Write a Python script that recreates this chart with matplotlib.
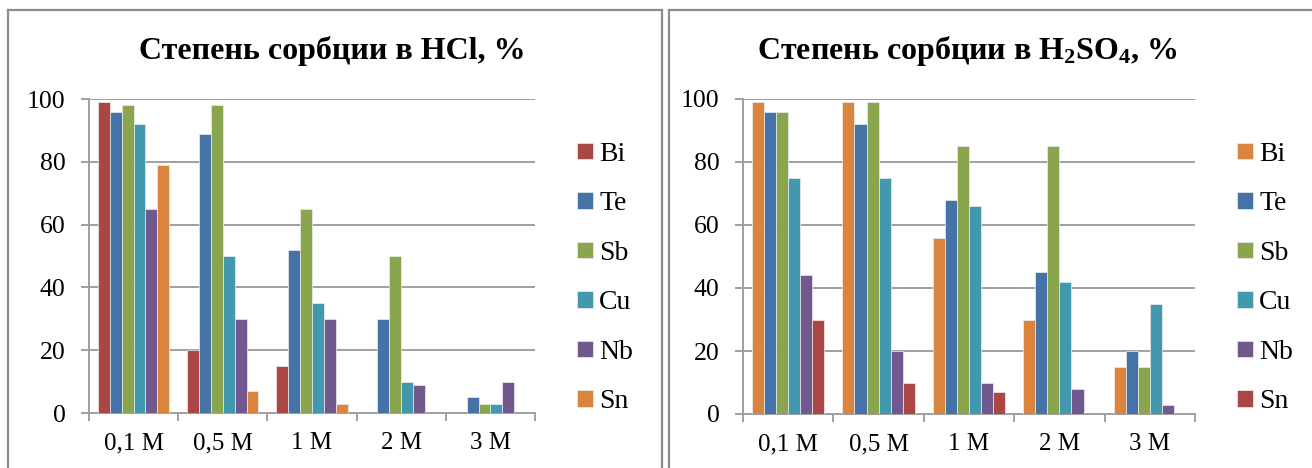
import matplotlib
matplotlib.use("Agg")
import matplotlib.pyplot as plt
from matplotlib.lines import Line2D
import numpy as np

plt.rcParams['font.family'] = ['Liberation Serif', 'DejaVu Serif']
plt.rcParams['mathtext.fontset'] = 'custom'
plt.rcParams['mathtext.rm'] = 'Liberation Serif:bold'
plt.rcParams['mathtext.bf'] = 'Liberation Serif:bold'
plt.rcParams['mathtext.it'] = 'Liberation Serif:bold'

# Concentrations of the acid
categories = ["0,1 M", "0,5 M", "1 M", "2 M", "3 M"]
elements = ["Bi", "Te", "Sb", "Cu", "Nb", "Sn"]

# Sorption degree in HCl, %
hcl_bi = [99, 20, 15, 0, 0]
hcl_te = [96, 89, 52, 30, 5]
hcl_sb = [98, 98, 65, 50, 3]
hcl_cu = [92, 50, 35, 10, 3]
hcl_nb = [65, 30, 30, 9, 10]
hcl_sn = [79, 7, 3, 0, 0]

# Sorption degree in H2SO4, %
h2so4_bi = [99, 99, 56, 30, 15]
h2so4_te = [96, 92, 68, 45, 20]
h2so4_sb = [96, 99, 85, 85, 15]
h2so4_cu = [75, 75, 66, 42, 35]
h2so4_nb = [44, 20, 10, 8, 3]
h2so4_sn = [30, 10, 7, 0, 0]

RED = "#AA4643"
BLUE = "#4572A7"
GREEN = "#89A54E"
TEAL = "#4198AF"
PURPLE = "#71588F"
ORANGE = "#DB843D"

hcl_colors = [RED, BLUE, GREEN, TEAL, PURPLE, ORANGE]
h2so4_colors = [ORANGE, BLUE, GREEN, TEAL, PURPLE, RED]

W, H = 1312, 468
fig = plt.figure(figsize=(W / 100, H / 100), dpi=100)
fig.patch.set_facecolor("white")

FS_Y = 18.5
FS_X = 18
FS_LEG = 20
GRID = "#A0A0A0"


def fx(px):
    return px / W


def fy(py):
    return 1 - py / H


# panel frames
frame_kw = dict(color="#8C8C8C", lw=1.6, transform=fig.transFigure)
fig.add_artist(Line2D([fx(8), fx(8)], [fy(10), fy(470)], **frame_kw))
fig.add_artist(Line2D([fx(8), fx(661.5)], [fy(10), fy(10)], **frame_kw))
fig.add_artist(Line2D([fx(661.5), fx(661.5)], [fy(10), fy(470)], **frame_kw))
fig.add_artist(Line2D([fx(669), fx(669)], [fy(9.5), fy(470)], **frame_kw))
fig.add_artist(Line2D([fx(669), fx(1314)], [fy(9.5), fy(9.5)], **frame_kw))


def draw_panel(rect_px, series, colors, title, title_x, legend_x):
    x0, y0, x1, y1 = rect_px
    ax = fig.add_axes([fx(x0), fy(y1), fx(x1 - x0), (y1 - y0) / H])
    x = np.arange(len(categories))
    n = len(series)
    w = 0.8 / n
    handles = []
    for i, (vals, c, name) in enumerate(zip(series, colors, elements)):
        b = ax.bar(x + (i - (n - 1) / 2) * w, vals, width=w, color=c,
                   edgecolor="#EDEDED", linewidth=0.5, zorder=3, label=name)
        handles.append(b)
    ax.set_xlim(-0.5, len(categories) - 0.5)
    ax.set_ylim(0, 100)
    ax.set_yticks(np.arange(0, 101, 20))
    ax.yaxis.grid(True, color=GRID, lw=1.4, zorder=0)
    ax.set_axisbelow(True)
    ax.set_xticks(np.arange(-0.5, len(categories)), labels=[""] * (len(categories) + 1))
    ax.set_xticks(x, labels=categories, minor=True)
    ax.tick_params(axis="x", which="major", direction="out", length=5.8,
                   width=1.4, color=GRID)
    ax.tick_params(axis="x", which="minor", length=0, pad=14, labelsize=FS_X)
    ax.tick_params(axis="y", direction="out", length=5.8, width=1.4, color=GRID,
                   labelsize=FS_Y, pad=11)
    for s in ("top", "right"):
        ax.spines[s].set_visible(False)
    for s in ("left", "bottom"):
        ax.spines[s].set_color(GRID)
        ax.spines[s].set_linewidth(1.4)
    fig.text(fx(title_x), fy(59), title, ha="center", va="baseline",
             fontsize=23, fontweight="bold")
    fig.legend(handles=handles, labels=elements, loc="upper left",
               bbox_to_anchor=(fx(legend_x), fy(142)), frameon=False,
               fontsize=FS_LEG, handlelength=0.58, handleheight=0.54,
               handletextpad=0.22, labelspacing=0.88, borderpad=0,
               borderaxespad=0)
    return ax


draw_panel((89, 99, 535, 413),
           [hcl_bi, hcl_te, hcl_sb, hcl_cu, hcl_nb, hcl_sn],
           hcl_colors, "Степень сорбции в HCl, %", 332, 577)
draw_panel((743, 99, 1195, 414),
           [h2so4_bi, h2so4_te, h2so4_sb, h2so4_cu, h2so4_nb, h2so4_sn],
           h2so4_colors, "Степень сорбции в H$_\\mathbf{2}$SO$_\\mathbf{4}$, %",
           967, 1237)

fig.savefig("out.png", dpi=100)
